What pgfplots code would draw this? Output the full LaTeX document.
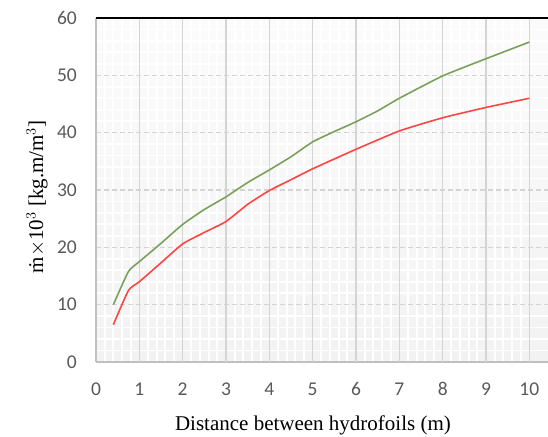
\documentclass[border=0pt]{standalone}
\usepackage{pgfplots}
\pgfplotsset{compat=1.18}
\usepackage{fontspec}
\setmainfont{Liberation Serif}
\newfontfamily\tickfont{Carlito}
\definecolor{greenline}{HTML}{7BA05B}
\definecolor{redline}{HTML}{FF4444}
\definecolor{tickgray}{HTML}{595959}
\definecolor{gridgray}{HTML}{D4D4D4}
\definecolor{axgray}{HTML}{C0C0C0}
\begin{document}
\begin{tikzpicture}
\begin{axis}[
  scale only axis,
  width=452pt, height=344pt,
  xmin=0, xmax=10.43, ymin=0, ymax=60,
  xtick={0,1,...,10}, ytick={0,10,...,60},
  minor x tick num=4, minor y tick num=4,
  major tick length=0pt, minor tick length=0pt,
  xmajorgrids=false, xminorgrids=true,
  ymajorgrids=true, yminorgrids=true,
  major y grid style={gridgray, line width=1.2pt, dash pattern=on 5pt off 3pt},
  minor grid style={white, line width=1.8pt},
  extra x ticks={1,2,...,10},
  extra x tick labels={},
  extra x tick style={grid=major, major grid style={gridgray, line width=1.2pt}},
  axis x line*=bottom, axis y line*=left,
  axis line style={axgray, line width=1.6pt, -},
  axis background/.style={top color=gray!3, bottom color=gray!10},
  ticklabel style={font=\tickfont\fontsize{19.5}{19.5}\selectfont, text=tickgray, inner sep=0pt},
  /pgf/number format/assume math mode=true,
  xticklabel style={anchor=base, yshift=-34pt},
  yticklabel style={anchor=east, xshift=-19pt},
  xlabel={Distance between hydrofoils (m)},
  ylabel={\.{m}$\times$10$^{3}$ [kg.m/m$^{3}$]},
  label style={font=\fontsize{21}{21}\selectfont, text=black},
  xlabel style={at={(axis description cs:0.48,0)}, anchor=center, yshift=-63pt},
  ylabel style={at={(axis description cs:0,0.48)}, anchor=center, yshift=59pt},
]
\addplot[greenline, line width=1.6pt, smooth, tension=0.3] coordinates {
(0.4,10) (0.75,15.8) (1,17.5) (1.5,20.7) (2,24) (2.5,26.6) (3,28.8) (3.5,31.3)
(4,33.5) (4.5,35.8) (5,38.4) (5.5,40.2) (6,41.9) (6.5,43.8) (7,46.0) (8,49.9)
(9,52.9) (10,55.8)};
\addplot[redline, line width=1.6pt, smooth, tension=0.3] coordinates {
(0.4,6.5) (0.75,12.5) (1,14) (1.5,17.3) (2,20.6) (2.5,22.6) (3,24.5) (3.5,27.5)
(4,29.9) (4.5,31.8) (5,33.7) (6,37.1) (7,40.3) (8,42.6) (9,44.4) (10,46.0)};
\draw[black, line width=2pt] (rel axis cs:0,1) -- (rel axis cs:1,1);
\end{axis}
\pgfresetboundingbox
\path[use as bounding box] ([xshift=-96pt,yshift=-75pt]current axis.south west) rectangle ([yshift=18pt]current axis.north east);
\end{tikzpicture}
\end{document}
